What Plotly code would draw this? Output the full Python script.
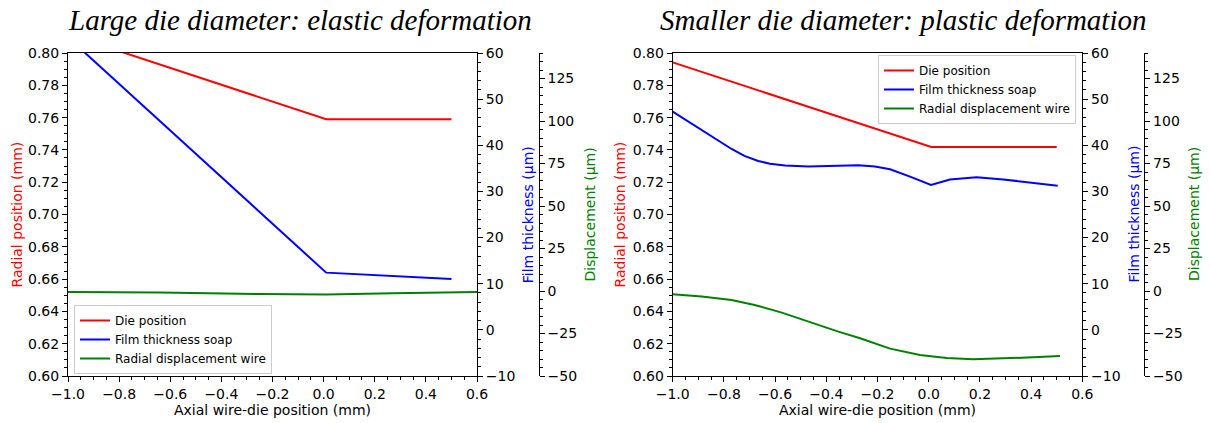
import plotly.graph_objects as go

# ---------------- data ----------------
L_die_x = [-1.0, 0.01, 0.5]
L_die = [0.8116, 0.759, 0.759]
L_film_x = [-1.0, 0.01, 0.5]
L_film = [63.4, 12.4, 11.0]
L_disp_x = [-1.0, -0.64, -0.25, 0.01, 0.27, 0.6]
L_disp = [-0.6, -0.9, -1.75, -2.1, -1.35, -0.6]

R_die_x = [-1.0, 0.01, 0.5]
R_die = [0.7942, 0.7418, 0.7418]
R_film_x = [-1.0, -0.9, -0.83, -0.77, -0.72, -0.666, -0.62, -0.561, -0.47, -0.379,
            -0.275, -0.21, -0.151, -0.073, 0.009, 0.083, 0.187, 0.291, 0.408, 0.504]
R_film = [47.3, 43.8, 41.3, 39.2, 37.7, 36.6, 36.0, 35.6, 35.4, 35.6,
          35.7, 35.4, 34.8, 33.2, 31.4, 32.6, 33.05, 32.6, 31.9, 31.25]
R_disp_x = [-1.0, -0.887, -0.77, -0.68, -0.574, -0.47, -0.353, -0.268, -0.151,
            -0.034, 0.07, 0.174, 0.291, 0.408, 0.513]
R_disp = [-1.9, -3.3, -5.3, -8.2, -12.7, -18.0, -23.9, -27.8, -33.9,
          -37.6, -39.4, -40.2, -39.8, -39.0, -38.2]

titles = ["Large die diameter: elastic deformation",
          "Smaller die diameter: plastic deformation"]
names = ["Die position", "Film thickness soap", "Radial displacement wire"]
x_label = "Axial wire-die position (mm)"
y_labels = ["Radial position (mm)", "Film thickness (\u00b5m)", "Displacement (\u00b5m)"]

# ---------------- layout helpers ----------------
W, H = 1211, 423
def fx(px):
    return px / W
def fy(py):
    return 1 - py / H

RED, BLUE, GREEN = "#ff0000", "#0000ff", "#008000"
FONT = "DejaVu Sans"

fig = go.Figure()

# left panel
fig.add_trace(go.Scatter(x=L_die_x, y=L_die, mode="lines", name=names[0],
                         line=dict(color=RED, width=2), xaxis="x", yaxis="y", legend="legend"))
fig.add_trace(go.Scatter(x=L_film_x, y=L_film, mode="lines", name=names[1],
                         line=dict(color=BLUE, width=2), xaxis="x", yaxis="y2", legend="legend"))
fig.add_trace(go.Scatter(x=L_disp_x, y=L_disp, mode="lines", name=names[2],
                         line=dict(color=GREEN, width=2), xaxis="x", yaxis="y3", legend="legend"))
# right panel
fig.add_trace(go.Scatter(x=R_die_x, y=R_die, mode="lines", name=names[0],
                         line=dict(color=RED, width=2), xaxis="x2", yaxis="y4", legend="legend2"))
fig.add_trace(go.Scatter(x=R_film_x, y=R_film, mode="lines", name=names[1],
                         line=dict(color=BLUE, width=2), xaxis="x2", yaxis="y5", legend="legend2"))
fig.add_trace(go.Scatter(x=R_disp_x, y=R_disp, mode="lines", name=names[2],
                         line=dict(color=GREEN, width=2), xaxis="x2", yaxis="y6", legend="legend2"))

tickfont = dict(family=FONT, size=14, color="black")
common = dict(showline=True, linecolor="black", linewidth=1, ticks="outside",
              ticklen=5, tickwidth=1, tickcolor="black", showgrid=False,
              zeroline=False, tickfont=tickfont, automargin=False)

def minor(d):
    return dict(ticks="outside", ticklen=3, tickwidth=1, tickcolor="black",
                dtick=d, showgrid=False)

ydom = [fy(376), fy(53)]
panels = [(68, 477, 538.7), (672.7, 1082.3, 1144.3)]

layout = dict(width=W, height=H, margin=dict(l=0, r=0, t=0, b=0, autoexpand=False),
              paper_bgcolor="white", plot_bgcolor="white", showlegend=True)

for i, (x0, x1, xd) in enumerate(panels):
    xa = "xaxis" if i == 0 else "xaxis2"
    xn = "x" if i == 0 else "x2"
    y1n, y2n, y3n = (["y", "y2", "y3"] if i == 0 else ["y4", "y5", "y6"])
    y1k = "yaxis" if i == 0 else "yaxis4"
    y2k = "yaxis2" if i == 0 else "yaxis5"
    y3k = "yaxis3" if i == 0 else "yaxis6"
    layout[xa] = dict(domain=[fx(x0), fx(x1)], range=[-1.0, 0.6], dtick=0.2,
                      tick0=0, tickformat=".1f", anchor=y1n, mirror=True,
                      minor=minor(0.05), **common)
    layout[y1k] = dict(domain=ydom, range=[0.6, 0.8], dtick=0.02, tick0=0,
                       tickformat=".2f", anchor=xn, minor=minor(0.005), **common)
    layout[y2k] = dict(range=[-10, 60], dtick=10, tick0=0, overlaying=y1n,
                       side="right", anchor=xn, minor=minor(2), **common)
    layout[y3k] = dict(range=[-50, 140], dtick=25, tick0=0, overlaying=y1n,
                       side="right", anchor="free", position=fx(xd),
                       minor=minor(5), **common)

legend_common = dict(bgcolor="rgba(255,255,255,0.8)", bordercolor="#cccccc",
                     borderwidth=1, font=dict(family=FONT, size=12, color="black"),
                     tracegroupgap=0)
layout["legend"] = dict(x=fx(74), y=fy(374), xanchor="left", yanchor="bottom",
                        **legend_common)
layout["legend2"] = dict(x=fx(1076), y=fy(55), xanchor="right", yanchor="top",
                         **legend_common)

ann = []
title_cx = [299.6, 903]
for i in range(2):
    ann.append(dict(text=titles[i], x=fx(title_cx[i]), y=fy(20), xref="paper",
                    yref="paper", showarrow=False, xanchor="center", yanchor="middle",
                    font=dict(family="Liberation Serif", size=29, color="black",
                              style="italic")))
# axis titles
xcent = [272.5, 877.5]
for i in range(2):
    ann.append(dict(text=x_label, x=fx(xcent[i]), y=fy(410), xref="paper", yref="paper",
                    showarrow=False, xanchor="center", yanchor="middle",
                    font=dict(family=FONT, size=14, color="black")))
ylab_x = [(16, 527.7, 589), (619, 1133, 1193.5)]
ycols = [RED, BLUE, GREEN]
for i in range(2):
    for j in range(3):
        ann.append(dict(text=y_labels[j], x=fx(ylab_x[i][j]), y=fy(214.5), xref="paper",
                        yref="paper", showarrow=False, xanchor="center", yanchor="middle",
                        textangle=-90, font=dict(family=FONT, size=14, color=ycols[j])))
layout["annotations"] = ann

fig.update_layout(**layout)
fig.write_html("out.html",
               config={"displayModeBar": False},
               post_script="document.body.style.margin='0px';"
                           "document.body.style.overflow='hidden';")
